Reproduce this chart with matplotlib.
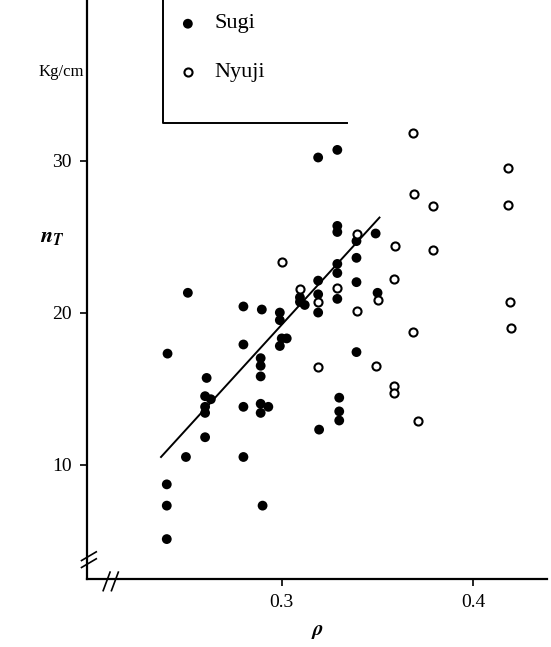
import matplotlib; matplotlib.use("Agg")
import matplotlib.pyplot as plt
from matplotlib.lines import Line2D

# Sugi (filled)
sugi_rho = [0.319, 0.329, 0.329, 0.329, 0.349, 0.339, 0.339, 0.329, 0.329, 0.319,
            0.339, 0.251, 0.329, 0.319, 0.319, 0.350, 0.3095, 0.3095, 0.312, 0.280,
            0.2896, 0.299, 0.299, 0.300, 0.3026, 0.2404, 0.280, 0.299, 0.339, 0.2608,
            0.289, 0.289, 0.289, 0.260, 0.263, 0.260, 0.260, 0.280, 0.289, 0.293,
            0.289, 0.330, 0.330, 0.330, 0.3195, 0.260, 0.250, 0.280, 0.240, 0.240,
            0.290, 0.240]
sugi_n = [30.2, 30.7, 25.7, 25.3, 25.2, 24.7, 23.6, 23.2, 22.6, 22.1,
          22.0, 21.3, 20.9, 21.2, 20.0, 21.3, 21.0, 20.7, 20.5, 20.4,
          20.2, 20.0, 19.5, 18.3, 18.3, 17.3, 17.9, 17.8, 17.4, 15.7,
          17.0, 16.5, 15.8, 14.5, 14.3, 13.8, 13.4, 13.8, 14.0, 13.8,
          13.4, 14.4, 13.5, 12.9, 12.3, 11.8, 10.5, 10.5, 8.7, 7.3,
          7.3, 5.1]

# Nyuji (open)
nyuji_rho = [0.300, 0.3095, 0.319, 0.329, 0.3394, 0.3394, 0.350, 0.319, 0.349, 0.3687,
             0.418, 0.369, 0.379, 0.418, 0.359, 0.379, 0.3587, 0.419, 0.4197, 0.3687,
             0.3584, 0.3584, 0.371]
nyuji_n = [23.3, 21.55, 20.7, 21.6, 25.2, 20.1, 20.8, 16.4, 16.5, 31.8,
           29.5, 27.8, 27.0, 27.1, 24.4, 24.1, 22.2, 20.7, 19.0, 18.7,
           15.15, 14.7, 12.9]

# regression line (Sugi)
line_rho = [0.237, 0.351]
line_n = [10.5, 26.25]

plt.rcParams['font.family'] = ['Liberation Serif', 'DejaVu Serif']
plt.rcParams['mathtext.fontset'] = 'stix'

fig = plt.figure(figsize=(5.51, 6.47), dpi=100)
ax = fig.add_axes([0.158, 0.105, 0.835, 0.895])
ax.set_xlim(0.1984, 0.4385)
ax.set_ylim(2.47, 40.56)

ax.scatter(sugi_rho, sugi_n, s=50, c='black', edgecolors='none', zorder=3)
ax.scatter(nyuji_rho, nyuji_n, s=34, facecolors='white', edgecolors='black', linewidths=1.5, zorder=4)
ax.plot(line_rho, line_n, color='black', lw=1.4, zorder=2)

for s in ['top', 'right']:
    ax.spines[s].set_visible(False)
for s in ['left', 'bottom']:
    ax.spines[s].set_linewidth(1.6)

ax.set_xticks([0.3, 0.4])
ax.set_xticklabels(['0.3', '0.4'])
ax.set_yticks([10, 20, 30])
ax.tick_params(direction='out', length=5, width=1.2, labelsize=14, pad=6)

ax.set_xlabel(r'$\mathbfit{\rho}$', fontsize=15, labelpad=8)
ax.text(-0.076, 0.589, r'$\mathbfit{n}_{\mathbfit{T}}$', transform=ax.transAxes, fontsize=16,
        ha='center', va='center')
ax.text(-0.057, 0.876, 'Kg/cm', transform=ax.transAxes, fontsize=12,
        ha='center', va='center')

# legend box
ax.plot([0.238, 0.238, 0.334], [40.56, 32.5, 32.5], color='black', lw=1.4, clip_on=False)
ax.scatter([0.251], [39.0], s=50, c='black', edgecolors='none')
ax.scatter([0.251], [35.8], s=34, facecolors='white', edgecolors='black', linewidths=1.5)
ax.text(0.265, 39.0, 'Sugi', fontsize=16, va='center')
ax.text(0.265, 35.8, 'Nyuji', fontsize=16, va='center')

# axis break marks
for dy in (0.0, 0.012):
    ax.add_line(Line2D([-0.012, 0.02], [0.02 + dy, 0.035 + dy], transform=ax.transAxes,
                       color='black', lw=1.2, clip_on=False))
for dx in (0.0, 0.018):
    ax.add_line(Line2D([0.035 + dx, 0.05 + dx], [-0.02, 0.012], transform=ax.transAxes,
                       color='black', lw=1.2, clip_on=False))

fig.savefig('out.png', dpi=100)
